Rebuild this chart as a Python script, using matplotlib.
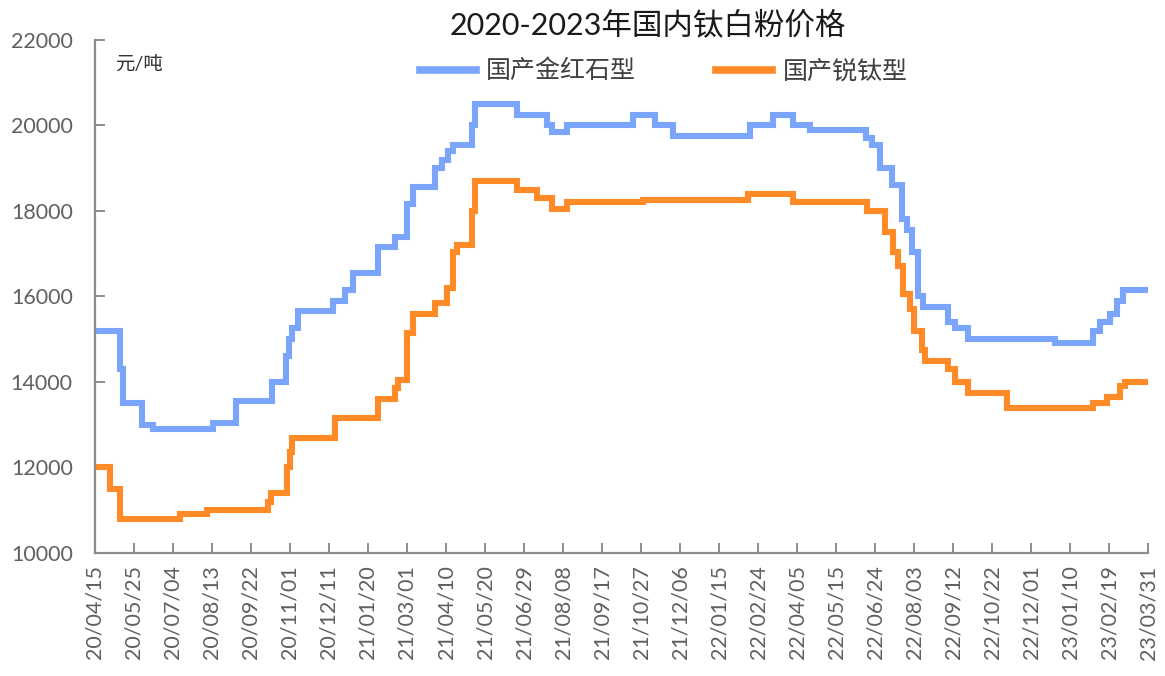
import numpy as np
import pandas as pd
import matplotlib.pyplot as plt

plt.rcParams['font.family'] = ['Lato', 'Noto Sans CJK SC', 'DejaVu Sans']

## price change points (step data), 元/吨
rutile_dates = ['2020-04-15', '2020-05-11', '2020-05-14', '2020-06-02', '2020-06-14', '2020-08-14',
                '2020-09-07', '2020-10-14', '2020-10-28', '2020-10-31', '2020-11-03', '2020-11-09',
                '2020-12-15', '2020-12-27', '2021-01-05', '2021-01-30', '2021-02-17', '2021-03-01',
                '2021-03-07', '2021-03-30', '2021-04-06', '2021-04-12', '2021-04-17', '2021-05-07',
                '2021-05-10', '2021-06-22', '2021-07-23', '2021-07-28', '2021-08-12', '2021-10-19',
                '2021-11-10', '2021-11-29', '2022-02-16', '2022-03-11', '2022-04-01', '2022-04-18',
                '2022-06-15', '2022-06-21', '2022-06-29', '2022-07-11', '2022-07-22', '2022-07-27',
                '2022-08-01', '2022-08-07', '2022-08-12', '2022-09-07', '2022-09-14', '2022-09-27',
                '2022-12-26', '2023-02-03', '2023-02-10', '2023-02-20', '2023-02-27', '2023-03-05',
                '2023-03-31']
rutile_price = [15200, 14300, 13500, 13000, 12900, 13050,
                13550, 14000, 14600, 15000, 15250, 15650,
                15900, 16150, 16550, 17150, 17400, 18150,
                18550, 19000, 19200, 19400, 19550, 20000,
                20500, 20250, 20000, 19850, 20000, 20250,
                20000, 19750, 20000, 20250, 20000, 19900,
                19700, 19550, 19000, 18600, 17800, 17550,
                17050, 16000, 15750, 15400, 15250, 15000,
                14900, 15200, 15400, 15600, 15900, 16150,
                16150]

anatase_dates = ['2020-04-15', '2020-04-30', '2020-05-11', '2020-07-11', '2020-08-08', '2020-10-09',
                 '2020-10-13', '2020-10-29', '2020-11-01', '2020-11-03', '2020-12-17', '2021-01-30',
                 '2021-02-17', '2021-02-20', '2021-03-01', '2021-03-07', '2021-03-30', '2021-04-11',
                 '2021-04-17', '2021-04-21', '2021-05-07', '2021-05-10', '2021-06-22', '2021-07-12',
                 '2021-07-28', '2021-08-12', '2021-10-29', '2022-02-14', '2022-04-01', '2022-06-16',
                 '2022-07-04', '2022-07-12', '2022-07-18', '2022-07-23', '2022-07-30', '2022-08-03',
                 '2022-08-11', '2022-08-14', '2022-09-07', '2022-09-14', '2022-09-27', '2022-11-06',
                 '2023-02-03', '2023-02-17', '2023-03-02', '2023-03-07', '2023-03-31']
anatase_price = [12000, 11500, 10800, 10900, 11000, 11200,
                 11400, 12000, 12350, 12700, 13150, 13600,
                 13850, 14050, 15150, 15600, 15850, 16200,
                 17050, 17200, 18000, 18700, 18500, 18300,
                 18050, 18200, 18250, 18400, 18200, 18000,
                 17500, 17050, 16700, 16050, 15700, 15200,
                 14750, 14500, 14300, 14000, 13750, 13400,
                 13500, 13650, 13900, 14000, 14000]

tick_labels = ['20/04/15', '20/05/25', '20/07/04', '20/08/13', '20/09/22', '20/11/01', '20/12/11',
               '21/01/20', '21/03/01', '21/04/10', '21/05/20', '21/06/29', '21/08/08', '21/09/17',
               '21/10/27', '21/12/06', '22/01/15', '22/02/24', '22/04/05', '22/05/15', '22/06/24',
               '22/08/03', '22/09/12', '22/10/22', '22/12/01', '23/01/10', '23/02/19', '23/03/31']

blue = '#7ba4fb'
orange = '#ff8a28'
grey = '#606060'

fig = plt.figure(figsize=(11.65, 6.76), dpi=100)
ax = fig.add_axes([0.0815, 0.182, 0.904, 0.759])

ax.step(pd.to_datetime(rutile_dates), rutile_price, where='post', color=blue, lw=4.4,
        label='国产金红石型', solid_joinstyle='miter')
ax.step(pd.to_datetime(anatase_dates), anatase_price, where='post', color=orange, lw=4.4,
        label='国产锐钛型', solid_joinstyle='miter')

ax.set_ylim(10000, 22000)
ax.set_yticks(np.arange(10000, 22001, 2000))
ax.set_xlim(pd.Timestamp('2020-04-15'), pd.Timestamp('2023-03-31'))
ticks = pd.to_datetime(['20' + t.replace('/', '-') for t in tick_labels])
ax.set_xticks(ticks)
ax.set_xticklabels(tick_labels, rotation=90)

for s in ['top', 'right']:
    ax.spines[s].set_visible(False)
for s in ['left', 'bottom']:
    ax.spines[s].set_color('#8c8c8c')
    ax.spines[s].set_linewidth(1.6)
ax.tick_params(axis='both', direction='in', length=7, width=1.4, color='#8c8c8c',
               labelsize=15.5, labelcolor=grey)
ax.tick_params(axis='y', pad=16)
ax.tick_params(axis='x', pad=9)

ax.text(0.019, 0.97, '元/吨', transform=ax.transAxes, fontsize=14, color='#333333',
        va='top', ha='left')

fig.text(0.556, 0.962, '2020-2023年国内钛白粉价格', ha='center', va='center',
         fontsize=22, color='#1a1a1a')

ax.legend(loc='center', bbox_to_anchor=(0.54, 0.94), ncol=2, frameon=False, fontsize=18,
          handlelength=2.25, columnspacing=3.2, handletextpad=0.4, labelcolor='#404040')
for line in ax.get_legend().get_lines():
    line.set_linewidth(5.5)

fig.savefig('out.png', dpi=100)
